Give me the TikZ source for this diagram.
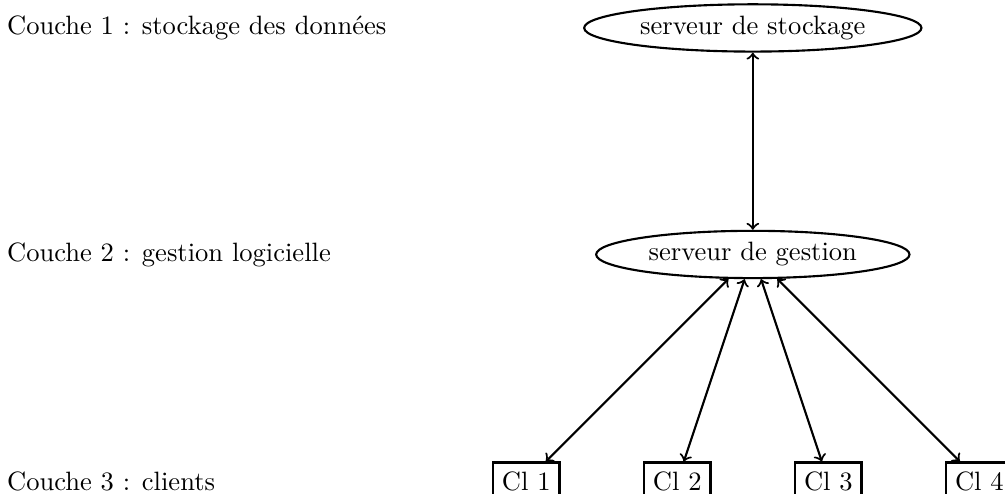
\documentclass[tikz,border=0pt]{standalone}
\usepackage{tikz}
\usetikzlibrary{shapes.geometric}

\begin{document}
\begin{tikzpicture}[
  layer/.style={anchor=west},
  server/.style={ellipse, draw, thick, inner xsep=2.5pt, inner ysep=1.8pt},
  client/.style={rectangle, draw, thick},
  link/.style={<->, thick}
]
\useasboundingbox (0.03,-0.17) rectangle (13.34,6.37);

\node[layer] (couche1) at (0,6) {Couche 1 : stockage des données};
\node[layer] (couche2) at (0,3) {Couche 2 : gestion logicielle};
\node[layer] (couche3) at (0,0) {Couche 3 : clients};

\node[server] (stockage) at (10,6) {serveur de stockage};
\node[server] (gestion) at (10,3) {serveur de gestion};
\node[client] (cl1) at (7,0) {Cl 1};
\node[client] (cl2) at (9,0) {Cl 2};
\node[client] (cl3) at (11,0) {Cl 3};
\node[client] (cl4) at (13,0) {Cl 4};

\draw[link] (stockage) -- (gestion);
\draw[link] (gestion) -- (cl1);
\draw[link] (gestion) -- (cl2);
\draw[link] (gestion) -- (cl3);
\draw[link] (gestion) -- (cl4);
\end{tikzpicture}
\end{document}
